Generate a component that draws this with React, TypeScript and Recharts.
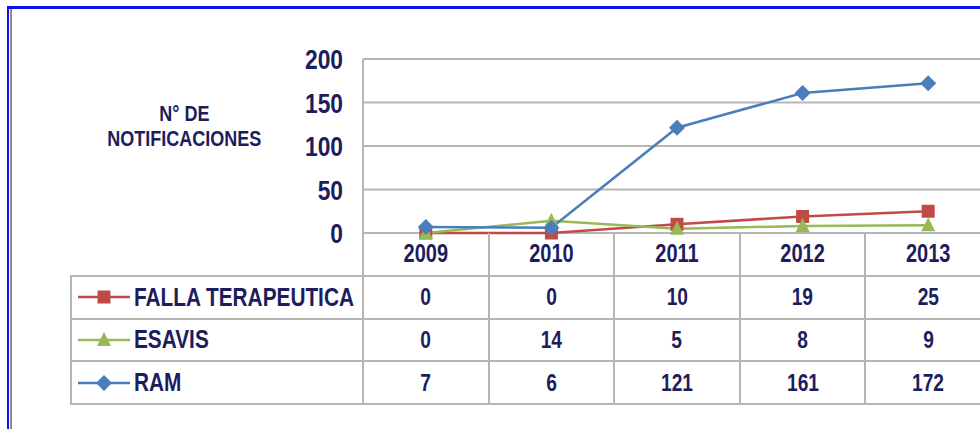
import { LineChart, Line, XAxis, YAxis, CartesianGrid } from 'recharts';

const years = ['2009', '2010', '2011', '2012', '2013'];
const fallaTerapeutica = [0, 0, 10, 19, 25];
const esavis = [0, 14, 5, 8, 9];
const ram = [7, 6, 121, 161, 172];
const yTicks = [0, 50, 100, 150, 200];

const seriesInfo = [
  { key: 'falla', name: 'FALLA TERAPEUTICA', color: '#BE4B48', shape: 'square', values: fallaTerapeutica },
  { key: 'esavis', name: 'ESAVIS', color: '#98B954', shape: 'triangle', values: esavis },
  { key: 'ram', name: 'RAM', color: '#4A7EBB', shape: 'diamond', values: ram },
];

const data = years.map((year, i) => ({
  year,
  falla: fallaTerapeutica[i],
  esavis: esavis[i],
  ram: ram[i],
}));

// layout (px, page coordinates)
const PLOT_LEFT = 363;
const PLOT_TOP = 59;
const PLOT_BOTTOM = 233;
const COL_W = 125.6;
const ROW_H = 42.75;
const TABLE_LEFT = 71;
const CHART_W = 1000;
const CHART_H = 420;
const Y_AXIS_W = 60;

const TEXT = '#1d1d5e';
const GRID = '#b5b5b5';
const FONT = "'Liberation Sans', Arial, sans-serif";
const SQUEEZE = 0.8; // reference uses a narrow bold face

function Marker({ shape, color, cx, cy }: { shape: string; color: string; cx: number; cy: number }) {
  if (shape === 'square') {
    return <rect x={cx - 6.5} y={cy - 6.5} width={13} height={13} fill={color} />;
  }
  if (shape === 'triangle') {
    return <polygon points={`${cx},${cy - 8} ${cx + 7},${cy + 6} ${cx - 7},${cy + 6}`} fill={color} />;
  }
  return <polygon points={`${cx},${cy - 8} ${cx + 8},${cy} ${cx},${cy + 8} ${cx - 8},${cy}`} fill={color} />;
}

const makeDot = (shape: string, color: string) => (props: any) => {
  const { cx, cy, index } = props;
  if (cx == null || cy == null) return <g key={`${shape}-${index}`} />;
  return <Marker key={`${shape}-${index}`} shape={shape} color={color} cx={cx} cy={cy} />;
};

const NarrowTick = (fontSize: number, dy: string) => (props: any) => {
  const { x, y, payload, textAnchor } = props;
  return (
    <text
      transform={`translate(${x},${y}) scale(${SQUEEZE},1)`}
      textAnchor={textAnchor}
      dy={dy}
      fill={TEXT}
      fontSize={fontSize}
      fontWeight={700}
      fontFamily={FONT}
    >
      {payload.value}
    </text>
  );
};

function Narrow({ children, origin = 'center' }: { children: any; origin?: string }) {
  return (
    <span style={{ display: 'inline-block', whiteSpace: 'nowrap', transform: `scaleX(${SQUEEZE})`, transformOrigin: origin }}>
      {children}
    </span>
  );
}

function LegendKey({ shape, color }: { shape: string; color: string }) {
  return (
    <svg width={56} height={20} style={{ display: 'block', flex: 'none' }}>
      <line x1={2} y1={10} x2={54} y2={10} stroke={color} strokeWidth={2.5} />
      <Marker shape={shape} color={color} cx={28} cy={10} />
    </svg>
  );
}

export default function App() {
  const tableTop = PLOT_BOTTOM;
  const cell = {
    position: 'absolute' as const,
    display: 'flex',
    alignItems: 'center',
    justifyContent: 'center',
    color: TEXT,
    fontFamily: FONT,
    fontWeight: 700,
    fontSize: 24,
  };

  return (
    <div style={{ position: 'relative', width: 980, height: 429, overflow: 'hidden', background: '#fff' }}>
      <style>{`body{margin:0;}`}</style>

      {/* outer frame */}
      <div style={{ position: 'absolute', left: 7, top: 6, width: 1000, height: 440, borderTop: '3px solid #1010ee', borderLeft: '2px solid #1010ee' }} />
      <div style={{ position: 'absolute', left: 10, top: 9, width: 2, height: 430, background: '#8a8a8a' }} />

      {/* y axis title */}
      <div
        style={{
          position: 'absolute',
          left: 84,
          top: 101,
          width: 200,
          textAlign: 'center',
          color: TEXT,
          fontFamily: FONT,
          fontWeight: 700,
          fontSize: 22.5,
          lineHeight: '25px',
        }}
      >
        <Narrow>N° DE</Narrow>
        <br />
        <Narrow>NOTIFICACIONES</Narrow>
      </div>

      <div style={{ position: 'absolute', left: 0, top: 0 }}>
        <LineChart
          width={CHART_W}
          height={CHART_H}
          data={data}
          margin={{
            top: PLOT_TOP,
            left: PLOT_LEFT - Y_AXIS_W,
            right: CHART_W - PLOT_LEFT - COL_W * years.length,
            bottom: CHART_H - PLOT_BOTTOM - 30,
          }}
        >
          <CartesianGrid horizontal vertical={false} stroke={GRID} strokeWidth={2} />
          <XAxis
            dataKey="year"
            axisLine={false}
            tickLine={false}
            tickSize={0}
            tickMargin={11}
            padding={{ left: COL_W / 2, right: COL_W / 2 }}
            tick={NarrowTick(25, '0.71em')}
            interval={0}
          />
          <YAxis
            width={Y_AXIS_W}
            domain={[0, 200]}
            ticks={yTicks}
            axisLine={{ stroke: GRID, strokeWidth: 2 }}
            tickLine={false}
            tickSize={0}
            tickMargin={20}
            tick={NarrowTick(28.5, '0.355em')}
          />
          {seriesInfo.map((s) => (
            <Line
              key={s.key}
              dataKey={s.key}
              name={s.name}
              stroke={s.color}
              strokeWidth={2.5}
              dot={makeDot(s.shape, s.color)}
              activeDot={false}
              isAnimationActive={false}
            />
          ))}
        </LineChart>
      </div>

      {/* data table grid */}
      {Array.from({ length: years.length + 1 }).map((_, i) => (
        <div
          key={`v${i}`}
          style={{
            position: 'absolute',
            left: PLOT_LEFT + i * COL_W - 1,
            top: tableTop,
            width: 2,
            height: ROW_H * 4,
            background: GRID,
          }}
        />
      ))}
      <div style={{ position: 'absolute', left: TABLE_LEFT - 1, top: tableTop + ROW_H, width: 2, height: ROW_H * 3, background: GRID }} />
      {[1, 2, 3, 4].map((r) => (
        <div
          key={`h${r}`}
          style={{
            position: 'absolute',
            left: TABLE_LEFT - 1,
            top: tableTop + r * ROW_H - 1,
            width: PLOT_LEFT + COL_W * years.length - TABLE_LEFT + 2,
            height: 2,
            background: GRID,
          }}
        />
      ))}

      {/* data table rows */}
      {seriesInfo.map((s, r) => (
        <div key={s.key}>
          <div
            style={{
              ...cell,
              justifyContent: 'flex-start',
              left: TABLE_LEFT + 5,
              top: tableTop + (r + 1) * ROW_H,
              height: ROW_H,
              width: PLOT_LEFT - TABLE_LEFT,
              fontSize: 26,
            }}
          >
            <LegendKey shape={s.shape} color={s.color} />
            <span style={{ marginLeft: 2 }}>
              <Narrow origin="left center">{s.name}</Narrow>
            </span>
          </div>
          {s.values.map((v, c) => (
            <div
              key={c}
              style={{
                ...cell,
                left: PLOT_LEFT + c * COL_W,
                top: tableTop + (r + 1) * ROW_H,
                width: COL_W,
                height: ROW_H,
              }}
            >
              <Narrow>{v}</Narrow>
            </div>
          ))}
        </div>
      ))}
    </div>
  );
}
